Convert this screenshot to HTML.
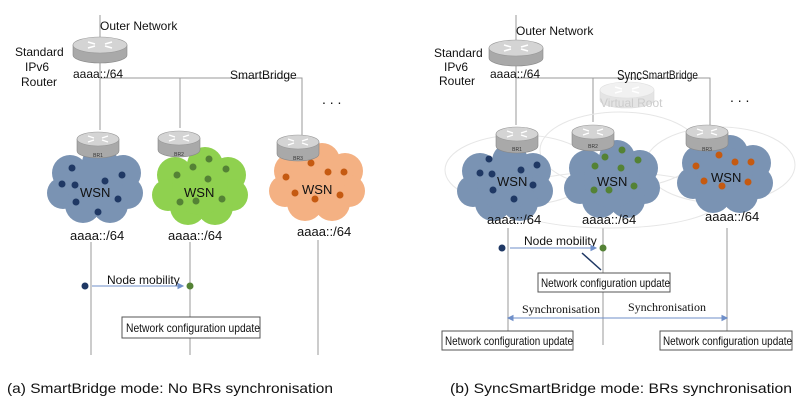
<!DOCTYPE html>
<html><head><style>body{margin:0;background:#fff}svg{display:block}</style></head><body>
<svg width="800" height="416" viewBox="0 0 800 416" xmlns="http://www.w3.org/2000/svg" font-family="Liberation Sans, sans-serif">
<defs>
<g id="rt">
<path d="M-27,0 v10 a27,8 0 0 0 54,0 v-10 z" fill="#a9a9a9" stroke="#888" stroke-width="0.6"/>
<ellipse cx="0" cy="0" rx="27" ry="8" fill="#d4d4d4" stroke="#999" stroke-width="0.6"/>
<path d="M-12,-3 l7,2 M12,-3 l-7,2 M-12,3 l7,-2 M12,3 l-7,-2" stroke="#fff" stroke-width="1.5"/>
</g>
<g id="rs">
<path d="M-21,0 v12 a21,7 0 0 0 42,0 v-12 z" fill="#a9a9a9" stroke="#888" stroke-width="0.6"/>
<ellipse cx="0" cy="0" rx="21" ry="7" fill="#d4d4d4" stroke="#999" stroke-width="0.6"/>
<path d="M-10,-3 l6,2 M10,-3 l-6,2 M-10,3 l6,-2 M10,3 l-6,-2" stroke="#fff" stroke-width="1.3"/>
</g>
<g id="cl">
<circle cx="-25" cy="-12" r="18"/><circle cx="5" cy="-22" r="18"/><circle cx="28" cy="-12" r="18"/>
<circle cx="-32" cy="8" r="16"/><circle cx="32" cy="8" r="16"/><circle cx="-12" cy="20" r="18"/><circle cx="15" cy="20" r="18"/><circle cx="0" cy="0" r="28"/>
</g>
</defs>
<g stroke="#999" fill="none" stroke-width="1">
<path d="M100,15V130 M100,78H302V135 M180,78V128"/>
<path d="M91,242V355 M190,242V355 M318,240V355"/>
<path d="M516,15V125 M516,78H710V125 M593,78V122"/>
<path d="M508,228V345 M603,228V345 M727,228V345"/>
</g>
<g fill="none" stroke="#e6e6e6" stroke-width="1">
<ellipse cx="520" cy="170" rx="75" ry="35"/><ellipse cx="620" cy="150" rx="80" ry="38"/><ellipse cx="720" cy="165" rx="75" ry="38"/><ellipse cx="610" cy="200" rx="110" ry="28"/>
</g>
<use href="#cl" x="95" y="185" fill="#7a93b3"/>
<use href="#cl" x="200" y="187" fill="#8fd14f"/>
<use href="#cl" x="317" y="183" fill="#f4b183"/>
<use href="#cl" x="505" y="183" fill="#7a93b3"/>
<use href="#cl" x="612" y="180" fill="#7a93b3"/>
<use href="#cl" x="725" y="175" fill="#7a93b3"/>
<g fill="#1f3864">
<circle cx="72" cy="168" r="3.5"/><circle cx="62" cy="184" r="3.5"/><circle cx="75" cy="185" r="3.5"/><circle cx="105" cy="181" r="3.5"/><circle cx="122" cy="175" r="3.5"/><circle cx="76" cy="202" r="3.5"/><circle cx="118" cy="199" r="3.5"/><circle cx="98" cy="212" r="3.5"/>
<circle cx="489" cy="159" r="3.5"/><circle cx="480" cy="173" r="3.5"/><circle cx="492" cy="174" r="3.5"/><circle cx="521" cy="170" r="3.5"/><circle cx="537" cy="165" r="3.5"/><circle cx="493" cy="190" r="3.5"/><circle cx="533" cy="185" r="3.5"/><circle cx="514" cy="199" r="3.5"/>
<circle cx="85" cy="286" r="3.5"/><circle cx="502" cy="248" r="3.5"/>
</g>
<g fill="#548235">
<circle cx="193" cy="167" r="3.5"/><circle cx="177" cy="175" r="3.5"/><circle cx="209" cy="159" r="3.5"/><circle cx="226" cy="169" r="3.5"/><circle cx="208" cy="179" r="3.5"/><circle cx="180" cy="202" r="3.5"/><circle cx="196" cy="201" r="3.5"/><circle cx="222" cy="199" r="3.5"/>
<circle cx="605" cy="157" r="3.5"/><circle cx="622" cy="150" r="3.5"/><circle cx="638" cy="160" r="3.5"/><circle cx="621" cy="168" r="3.5"/><circle cx="595" cy="166" r="3.5"/><circle cx="594" cy="190" r="3.5"/><circle cx="609" cy="190" r="3.5"/><circle cx="634" cy="186" r="3.5"/>
<circle cx="190" cy="286" r="3.5"/><circle cx="603" cy="248" r="3.5"/>
</g>
<g fill="#c55a11">
<circle cx="311" cy="163" r="3.5"/><circle cx="286" cy="177" r="3.5"/><circle cx="328" cy="172" r="3.5"/><circle cx="344" cy="172" r="3.5"/><circle cx="295" cy="193" r="3.5"/><circle cx="315" cy="199" r="3.5"/><circle cx="340" cy="195" r="3.5"/>
<circle cx="719" cy="155" r="3.5"/><circle cx="696" cy="166" r="3.5"/><circle cx="735" cy="162" r="3.5"/><circle cx="751" cy="162" r="3.5"/><circle cx="704" cy="181" r="3.5"/><circle cx="722" cy="186" r="3.5"/><circle cx="748" cy="182" r="3.5"/>
</g>
<use href="#rt" x="100" y="45"/>
<use href="#rt" x="516" y="48"/>
<g opacity="0.3"><use href="#rt" x="627" y="90"/></g>
<text x="600" y="107" font-size="12" fill="#ccc">Virtual Root</text>
<use href="#rs" x="98" y="139"/><use href="#rs" x="179" y="138"/><use href="#rs" x="298" y="142"/>
<use href="#rs" x="517" y="134"/><use href="#rs" x="593" y="132"/><use href="#rs" x="707" y="132"/>
<g font-size="5" fill="#333" text-anchor="middle"><text x="98" y="157">BR1</text><text x="179" y="156">BR2</text><text x="298" y="160">BR3</text><text x="517" y="151">BR1</text><text x="593" y="148">BR2</text><text x="707" y="151">BR3</text></g>
<g font-size="12" fill="#111">
<text x="100" y="30">Outer Network</text>
<text x="15" y="56">Standard</text><text x="25" y="71">IPv6</text><text x="21" y="86">Router</text>
<text x="73" y="78">aaaa::/64</text>
<text x="230" y="79">SmartBridge</text>
<text x="322" y="104" font-size="14">. . .</text>
<text x="516" y="35">Outer Network</text>
<text x="434" y="57">Standard</text><text x="444" y="71">IPv6</text><text x="439" y="85">Router</text>
<text x="490" y="78">aaaa::/64</text>
<text x="617" y="80" font-size="15" textLength="25" lengthAdjust="spacingAndGlyphs">Sync</text><text x="642" y="79" textLength="56" lengthAdjust="spacingAndGlyphs">SmartBridge</text>
<text x="730" y="102" font-size="14">. . .</text>
<text x="80" y="197" font-size="13">WSN</text><text x="184" y="197" font-size="13">WSN</text><text x="302" y="194" font-size="13">WSN</text>
<text x="497" y="186" font-size="13">WSN</text><text x="597" y="186" font-size="13">WSN</text><text x="711" y="182" font-size="13">WSN</text>
<text x="70" y="240" font-size="13">aaaa::/64</text><text x="168" y="240" font-size="13">aaaa::/64</text><text x="297" y="236" font-size="13">aaaa::/64</text>
<text x="487" y="224" font-size="13">aaaa::/64</text><text x="582" y="224" font-size="13">aaaa::/64</text><text x="705" y="221" font-size="13">aaaa::/64</text>
<text x="107" y="284">Node mobility</text>
<text x="524" y="245">Node mobility</text>
<text x="522" y="313" font-family="Liberation Serif, serif" font-size="12">Synchronisation</text>
<text x="628" y="311" font-family="Liberation Serif, serif" font-size="12">Synchronisation</text>
</g>
<g stroke="#6f8fc9" fill="#6f8fc9" stroke-width="1">
<path d="M92,286H181" fill="none"/><path d="M183,286l-5,-2.5v5z"/>
<path d="M510,248H594" fill="none"/><path d="M596,248l-5,-2.5v5z"/>
<path d="M512,318H723" fill="none"/><path d="M727,318l-5,-2.5v5z"/><path d="M508,318l5,-2.5v5z"/>
</g>
<path d="M582,253L601,270" stroke="#1f3864" stroke-width="1.5"/>
<g fill="#fff" stroke="#555" stroke-width="1">
<rect x="122" y="317" width="138" height="21"/>
<rect x="538" y="273" width="132" height="19"/>
<rect x="442" y="331" width="131" height="19"/>
<rect x="660" y="331" width="132" height="19"/>
</g>
<g font-size="12" fill="#111">
<text x="126" y="332" textLength="134" lengthAdjust="spacingAndGlyphs">Network configuration update</text>
<text x="541" y="287" textLength="129" lengthAdjust="spacingAndGlyphs">Network configuration update</text>
<text x="445" y="345" textLength="128" lengthAdjust="spacingAndGlyphs">Network configuration update</text>
<text x="663" y="345" textLength="129" lengthAdjust="spacingAndGlyphs">Network configuration update</text>
<text x="7" y="393" font-size="14" textLength="326" lengthAdjust="spacingAndGlyphs">(a) SmartBridge mode:  No BRs synchronisation</text>
<text x="450" y="393" font-size="14" textLength="342" lengthAdjust="spacingAndGlyphs">(b) SyncSmartBridge mode: BRs synchronisation</text>
</g>
</svg>
</body></html>
